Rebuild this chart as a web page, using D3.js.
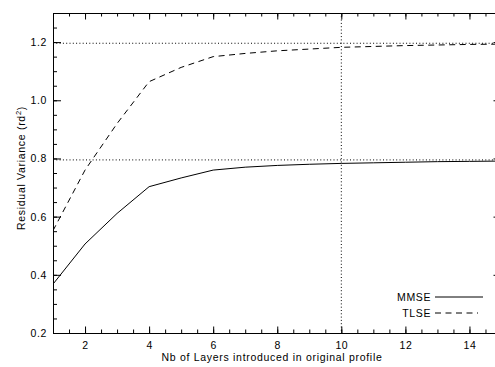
<!DOCTYPE html>
<html>
<head>
<script src="https://d3js.org/d3.v7.min.js"></script>
<style>
  body { margin: 0; background: #fff; }
  text { font-family: "Liberation Sans", Arial, sans-serif; fill: #000; }
</style>
</head>
<body>
<div id="Chart"></div>
<script>

// data
var layers = [1, 2, 3, 4, 5, 6, 7, 8, 9, 10, 11, 12, 13, 14, 15];
var mmse   = [0.368, 0.506, 0.611, 0.703, 0.733, 0.760, 0.770, 0.776, 0.780, 0.783, 0.785, 0.787, 0.789, 0.790, 0.791];
var tlse   = [0.552, 0.760, 0.920, 1.064, 1.113, 1.150, 1.161, 1.170, 1.176, 1.182, 1.185, 1.188, 1.190, 1.192, 1.193];
var mmseLimit = 0.795, tlseLimit = 1.196, markLayer = 10;
var xTicks = [2, 4, 6, 8, 10, 12, 14];
var yTicks = [0.2, 0.4, 0.6, 0.8, 1.0, 1.2];
var legendNames = ["MMSE", "TLSE"];

var W = 495, H = 367;
// the right edge of the frame falls just outside the picture
var pLeft = 53, pRight = 501.5, pTop = 13, pBottom = 333;

var svg = d3.select("#Chart").append("svg")
    .attr("width", W).attr("height", H);

var x = d3.scaleLinear().domain([1, 15]).range([pLeft, pRight]);
var y = d3.scaleLinear().domain([0.2, 1.3]).range([pBottom, pTop]);

var xMinor = d3.range(1, 15.01, 0.5);
var yMinor = d3.range(0.2, 1.3001, 0.05);

function styleAxis(g) {
  g.selectAll("path, line").attr("stroke", "#000").attr("stroke-width", 1);
  g.selectAll("text").style("font-size", "10.5px").style("letter-spacing", "0.6px");
}

// bottom axis
svg.append("g").attr("transform", "translate(0," + pBottom + ")")
  .call(d3.axisBottom(x).tickValues(xMinor).tickSize(-3.5).tickFormat("").tickSizeOuter(0))
  .call(styleAxis);
svg.append("g").attr("transform", "translate(0," + pBottom + ")")
  .call(d3.axisBottom(x).tickValues(xTicks).tickSize(-6.5).tickSizeOuter(0).tickPadding(9).tickFormat(d3.format("d")))
  .call(styleAxis);
// top axis
svg.append("g").attr("transform", "translate(0," + pTop + ")")
  .call(d3.axisTop(x).tickValues(xMinor).tickSize(-3.5).tickFormat("").tickSizeOuter(0))
  .call(styleAxis);
svg.append("g").attr("transform", "translate(0," + pTop + ")")
  .call(d3.axisTop(x).tickValues(xTicks).tickSize(-6.5).tickFormat("").tickSizeOuter(0))
  .call(styleAxis);
// left axis
svg.append("g").attr("transform", "translate(" + pLeft + ",0)")
  .call(d3.axisLeft(y).tickValues(yMinor).tickSize(-4).tickFormat("").tickSizeOuter(0))
  .call(styleAxis);
svg.append("g").attr("transform", "translate(" + pLeft + ",0)")
  .call(d3.axisLeft(y).tickValues(yTicks).tickSize(-8).tickSizeOuter(0).tickPadding(6).tickFormat(d3.format(".1f")))
  .call(styleAxis);
// right axis
svg.append("g").attr("transform", "translate(" + pRight + ",0)")
  .call(d3.axisRight(y).tickValues(yMinor).tickSize(-4).tickFormat("").tickSizeOuter(0))
  .call(styleAxis);
svg.append("g").attr("transform", "translate(" + pRight + ",0)")
  .call(d3.axisRight(y).tickValues(yTicks).tickSize(-8).tickFormat("").tickSizeOuter(0))
  .call(styleAxis);

// axis titles
svg.append("text")
  .attr("x", 272).attr("y", 361)
  .attr("text-anchor", "middle").style("font-size", "10.5px").style("letter-spacing", "0.7px")
  .text("Nb of Layers introduced in original profile");

var yt = svg.append("text")
  .attr("transform", "translate(25,168) rotate(-90)")
  .attr("text-anchor", "middle").style("font-size", "10.5px").style("letter-spacing", "0.7px");
yt.append("tspan").text("Residual Variance (rd");
yt.append("tspan").attr("dy", -4).style("font-size", "7.5px").text("2");
yt.append("tspan").attr("dy", 4).text(")");

// clip for the curves
svg.append("clipPath").attr("id", "plot")
  .append("rect").attr("x", pLeft).attr("y", pTop)
  .attr("width", pRight - pLeft).attr("height", pBottom - pTop);

var plot = svg.append("g").attr("clip-path", "url(#plot)");

// reference dotted lines
[mmseLimit, tlseLimit].forEach(function (v) {
  plot.append("line")
    .attr("x1", pLeft).attr("x2", pRight)
    .attr("y1", y(v)).attr("y2", y(v))
    .attr("stroke", "#000").attr("stroke-width", 1)
    .attr("stroke-dasharray", "1,2.3");
});
plot.append("line")
  .attr("x1", x(markLayer)).attr("x2", x(markLayer))
  .attr("y1", pTop).attr("y2", pBottom)
  .attr("stroke", "#000").attr("stroke-width", 1)
  .attr("stroke-dasharray", "1,2.3");

var line = d3.line()
  .x(function (d) { return x(d[0]); })
  .y(function (d) { return y(d[1]); });

plot.append("path")
  .datum(d3.zip(layers, mmse))
  .attr("d", line).attr("fill", "none")
  .attr("stroke", "#000").attr("stroke-width", 1);

plot.append("path")
  .datum(d3.zip(layers, tlse))
  .attr("d", line).attr("fill", "none")
  .attr("stroke", "#000").attr("stroke-width", 1)
  .attr("stroke-dasharray", "6,4.5");

// legend
var legend = svg.append("g");
legendNames.forEach(function (name, i) {
  var ly = 297 + i * 16;
  legend.append("text")
    .attr("x", 431).attr("y", ly + 3.5)
    .attr("text-anchor", "end").style("font-size", "10.5px").style("letter-spacing", "0.6px")
    .text(name);
  legend.append("line")
    .attr("x1", 435).attr("x2", i === 0 ? 483 : 478)
    .attr("y1", ly).attr("y2", ly)
    .attr("stroke", "#000").attr("stroke-width", 1)
    .attr("stroke-dasharray", i === 0 ? null : "6,4.5");
});

</script>
</body>
</html>
